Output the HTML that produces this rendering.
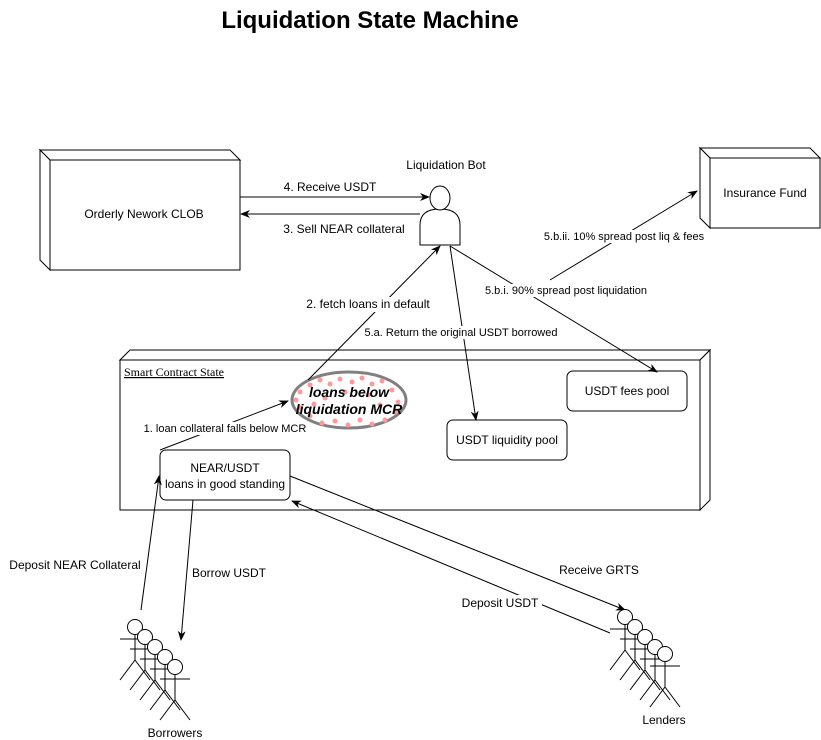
<!DOCTYPE html>
<html><head><meta charset="utf-8"><style>
html,body{margin:0;padding:0;background:#fff;}
svg{display:block;font-family:"Liberation Sans",sans-serif;}
</style></head><body>
<svg width="821" height="740" viewBox="0 0 821 740" xmlns="http://www.w3.org/2000/svg">
<defs>
<marker id="a" markerWidth="10" markerHeight="8" refX="9" refY="4" orient="auto" markerUnits="userSpaceOnUse">
<path d="M0,0 L10,4 L0,8 L3,4 Z" fill="#000"/></marker>
<g id="fig" fill="none" stroke="#000" stroke-width="1">
<circle cx="0" cy="0" r="7.5" fill="#fff"/>
<line x1="0" y1="7.5" x2="0" y2="33"/>
<line x1="-15" y1="12" x2="15" y2="12"/>
<line x1="0" y1="33" x2="-15" y2="53"/>
<line x1="0" y1="33" x2="15" y2="53"/>
</g>
</defs>
<text x="370" y="28" font-size="24" font-weight="bold" text-anchor="middle">Liquidation State Machine</text>

<g fill="#fff" stroke="#000" stroke-width="1">
<polygon points="40,150 230,150 240,160 50,160"/>
<polygon points="40,150 50,160 50,270 40,260"/>
<rect x="50" y="160" width="190" height="110"/>
<polygon points="700,148 810,148 820,158 710,158"/>
<polygon points="700,148 710,158 710,228 700,218"/>
<rect x="710" y="158" width="110" height="70"/>
<polygon points="120,360 130,350 710,350 700,360"/>
<polygon points="700,360 710,350 710,500 700,510"/>
<rect x="120" y="360" width="580" height="150"/>
</g>
<text x="144" y="218" font-size="12" text-anchor="middle">Orderly Nework CLOB</text>
<text x="765" y="197" font-size="12" text-anchor="middle">Insurance Fund</text>
<text x="124" y="376" font-size="12" font-family="Liberation Serif,serif" text-decoration="underline">Smart Contract State</text>

<!-- bot -->
<text x="446" y="169" font-size="12" text-anchor="middle">Liquidation Bot</text>
<path d="M420,245 L420,225 Q420,209 440,209 Q460,209 460,225 L460,245 Z" fill="#fff" stroke="#000"/>
<ellipse cx="440" cy="198" rx="10" ry="12" fill="#fff" stroke="#000"/>

<g fill="#fff" stroke="#000">
<rect x="160" y="450" width="130" height="50" rx="6"/>
<rect x="567" y="371" width="120" height="40" rx="6"/>
<rect x="447" y="420" width="120" height="40" rx="6"/>
</g>
<text font-size="12" text-anchor="middle"><tspan x="225" y="472">NEAR/USDT</tspan><tspan x="225" y="488">loans in good standing</tspan></text>
<text x="627" y="395" font-size="12" text-anchor="middle">USDT fees pool</text>
<text x="507" y="444" font-size="12" text-anchor="middle">USDT liquidity pool</text>

<!-- ellipse -->
<ellipse cx="349" cy="400" rx="57" ry="28" fill="#fff" stroke="#808080" stroke-width="3"/>
<g fill="#ff9999">
<circle cx="300" cy="392" r="2.5"/><circle cx="310" cy="385" r="2.5"/><circle cx="320" cy="380" r="2.5"/><circle cx="330" cy="384" r="2.5"/><circle cx="340" cy="379" r="2.5"/><circle cx="352" cy="382" r="2.5"/><circle cx="362" cy="378" r="2.5"/><circle cx="372" cy="384" r="2.5"/><circle cx="382" cy="381" r="2.5"/><circle cx="392" cy="390" r="2.5"/><circle cx="398" cy="402" r="2.5"/><circle cx="395" cy="412" r="2.5"/><circle cx="385" cy="420" r="2.5"/><circle cx="372" cy="424" r="2.5"/><circle cx="360" cy="420" r="2.5"/><circle cx="348" cy="425" r="2.5"/><circle cx="335" cy="421" r="2.5"/><circle cx="322" cy="423" r="2.5"/><circle cx="310" cy="416" r="2.5"/><circle cx="300" cy="408" r="2.5"/><circle cx="296" cy="400" r="2.5"/><circle cx="345" cy="392" r="2.5"/><circle cx="368" cy="395" r="2.5"/><circle cx="325" cy="398" r="2.5"/><circle cx="380" cy="405" r="2.5"/><circle cx="314" cy="404" r="2.5"/>
</g>
<text font-size="14" font-weight="bold" font-style="italic" text-anchor="middle"><tspan x="349" y="397">loans below</tspan><tspan x="349" y="414">liquidation MCR</tspan></text>

<!-- arrows -->
<g stroke="#000" fill="none" marker-end="url(#a)">
<line x1="240" y1="197" x2="429" y2="197"/>
<line x1="420" y1="214" x2="241" y2="214"/>
<line x1="308" y1="380" x2="440" y2="246"/>
<line x1="450" y1="246" x2="476" y2="420"/>
<line x1="450" y1="246" x2="657" y2="372"/>
<line x1="550" y1="280" x2="697" y2="191"/>
<line x1="160" y1="450" x2="288" y2="401"/>
<line x1="141" y1="610" x2="159" y2="476"/>
<line x1="193" y1="500" x2="181" y2="640"/>
<line x1="290" y1="476" x2="625" y2="610"/>
<line x1="610" y1="633" x2="292" y2="501"/>
</g>

<!-- labels with white bg -->
<g font-size="12" text-anchor="middle">
<rect x="280" y="179" width="100" height="15" fill="#fff"/>
<text x="330" y="191">4. Receive USDT</text>
<text x="344" y="233">3. Sell NEAR collateral</text>
<rect x="315" y="297" width="108" height="15" fill="#fff"/>
<text x="368" y="308">2. fetch loans in default</text>
<text x="75" y="569">Deposit NEAR Collateral</text>
<text x="229" y="577">Borrow USDT</text>
<rect x="555" y="562" width="88" height="15" fill="#fff"/>
<text x="599" y="574">Receive GRTS</text>
<rect x="458" y="595" width="84" height="15" fill="#fff"/>
<text x="500" y="607">Deposit USDT</text>
<text x="175" y="737">Borrowers</text>
<text x="664" y="724">Lenders</text>
</g>
<g font-size="11" text-anchor="middle">
<rect x="366" y="326" width="190" height="13" fill="#fff"/>
<text x="461" y="336">5.a. Return the original USDT borrowed</text>
<rect x="484" y="284" width="164" height="13" fill="#fff"/>
<text x="566" y="294">5.b.i. 90% spread post liquidation</text>
<rect x="543" y="230" width="162" height="13" fill="#fff"/>
<text x="624" y="240">5.b.ii. 10% spread post liq &amp; fees</text>
<rect x="143" y="422" width="164" height="13" fill="#fff"/>
<text x="225" y="432">1. loan collateral falls below MCR</text>
</g>

<!-- stick figures -->
<use href="#fig" x="135" y="627"/><use href="#fig" x="145" y="637"/><use href="#fig" x="155" y="647"/><use href="#fig" x="165" y="657"/><use href="#fig" x="175" y="667"/>
<use href="#fig" x="625" y="617"/><use href="#fig" x="635" y="627"/><use href="#fig" x="645" y="637"/><use href="#fig" x="655" y="647"/><use href="#fig" x="665" y="654"/>
</svg>
</body></html>
